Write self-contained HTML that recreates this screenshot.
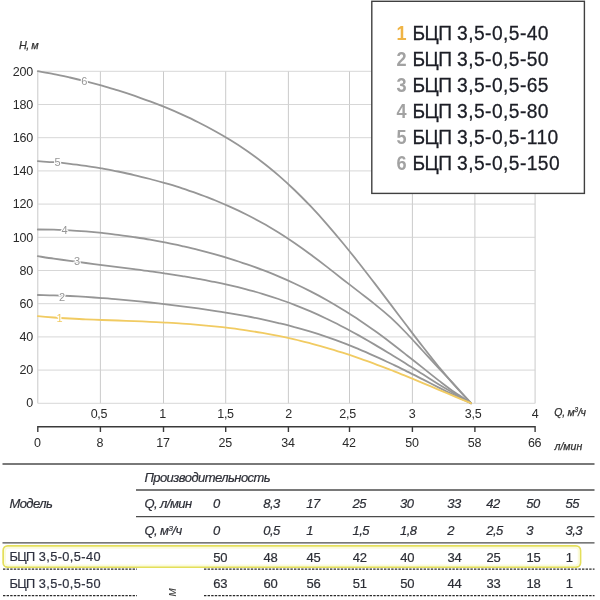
<!DOCTYPE html>
<html lang="ru"><head><meta charset="utf-8"><title>БЦП 3,5-0,5</title>
<style>
html,body{margin:0;padding:0;background:#fff;}
body{width:600px;height:600px;position:relative;overflow:hidden;font-family:"Liberation Sans",sans-serif;}
</style></head><body>
<svg width="600" height="600" viewBox="0 0 600 600" style="position:absolute;left:0;top:0">
<g stroke-width="0.9" fill="none">
<line stroke="#c4c4c4" x1="37.8" y1="71.3" x2="37.8" y2="403.3"/>
<line stroke="#c4c4c4" x1="100.4" y1="71.3" x2="100.4" y2="403.3"/>
<line stroke="#c4c4c4" x1="163.5" y1="71.3" x2="163.5" y2="403.3"/>
<line stroke="#c4c4c4" x1="225.7" y1="71.3" x2="225.7" y2="403.3"/>
<line stroke="#c4c4c4" x1="288.4" y1="71.3" x2="288.4" y2="403.3"/>
<line stroke="#c4c4c4" x1="349.5" y1="71.3" x2="349.5" y2="403.3"/>
<line stroke="#c4c4c4" x1="412.4" y1="71.3" x2="412.4" y2="403.3"/>
<line stroke="#c4c4c4" x1="474.9" y1="71.3" x2="474.9" y2="403.3"/>
<line stroke="#c4c4c4" x1="535.1" y1="71.3" x2="535.1" y2="403.3"/>
<line stroke="#d2d2d2" x1="37.8" y1="403.3" x2="535.1" y2="403.3"/>
<line stroke="#d2d2d2" x1="37.8" y1="370.1" x2="535.1" y2="370.1"/>
<line stroke="#d2d2d2" x1="37.8" y1="336.9" x2="535.1" y2="336.9"/>
<line stroke="#d2d2d2" x1="37.8" y1="303.7" x2="535.1" y2="303.7"/>
<line stroke="#d2d2d2" x1="37.8" y1="270.5" x2="535.1" y2="270.5"/>
<line stroke="#d2d2d2" x1="37.8" y1="237.3" x2="535.1" y2="237.3"/>
<line stroke="#d2d2d2" x1="37.8" y1="204.1" x2="535.1" y2="204.1"/>
<line stroke="#d2d2d2" x1="37.8" y1="170.9" x2="535.1" y2="170.9"/>
<line stroke="#d2d2d2" x1="37.8" y1="137.7" x2="535.1" y2="137.7"/>
<line stroke="#d2d2d2" x1="37.8" y1="104.5" x2="535.1" y2="104.5"/>
<line stroke="#d2d2d2" x1="37.8" y1="71.3" x2="535.1" y2="71.3"/>
</g>
<g fill="none" stroke-width="1.8" stroke-linecap="round">
<path stroke="#969696" d="M37.8 71.2 C40.5 71.7 48.5 73.0 53.8 74.1 C59.2 75.1 64.5 76.3 69.9 77.5 C75.2 78.7 80.6 80.0 85.9 81.3 C91.3 82.7 96.6 84.1 102.0 85.6 C107.3 87.2 112.7 88.7 118.0 90.4 C123.4 92.1 128.7 93.8 134.1 95.6 C139.4 97.5 144.8 99.4 150.1 101.4 C155.5 103.4 160.8 105.5 166.2 107.7 C171.5 109.9 176.9 112.2 182.2 114.6 C187.5 117.0 192.9 119.5 198.2 122.2 C203.6 124.9 208.9 127.7 214.3 130.7 C219.6 133.6 225.0 136.7 230.3 140.1 C235.7 143.4 241.0 146.8 246.4 150.5 C251.7 154.2 257.1 158.1 262.4 162.3 C267.8 166.4 273.1 170.8 278.5 175.4 C283.8 180.0 289.2 184.9 294.5 190.0 C299.9 195.2 305.2 200.6 310.6 206.2 C315.9 211.8 321.3 217.7 326.6 223.8 C331.9 229.9 337.3 236.3 342.6 242.7 C348.0 249.2 353.3 255.9 358.7 262.7 C364.0 269.5 369.4 276.4 374.7 283.4 C380.1 290.4 385.4 297.5 390.8 304.6 C396.1 311.6 401.5 318.8 406.8 325.8 C412.2 332.9 417.5 339.9 422.9 346.8 C428.2 353.6 433.6 360.5 438.9 367.0 C444.3 373.5 449.6 379.9 455.0 386.0 C460.3 392.0 468.3 400.3 471.0 403.2"/>
<path stroke="#969696" d="M37.8 161.2 C40.5 161.4 48.5 161.8 53.8 162.2 C59.2 162.6 64.5 163.1 69.9 163.8 C75.2 164.4 80.6 165.1 85.9 165.8 C91.3 166.6 96.6 167.5 102.0 168.4 C107.3 169.4 112.7 170.4 118.0 171.5 C123.4 172.6 128.7 173.7 134.1 175.0 C139.4 176.2 144.8 177.6 150.1 179.0 C155.5 180.4 160.8 181.9 166.2 183.4 C171.5 185.0 176.9 186.6 182.2 188.4 C187.5 190.1 192.9 192.0 198.2 193.9 C203.6 195.8 208.9 197.9 214.3 200.0 C219.6 202.2 225.0 204.5 230.3 206.9 C235.7 209.3 241.0 211.8 246.4 214.5 C251.7 217.2 257.1 220.0 262.4 223.0 C267.8 226.0 273.1 229.2 278.5 232.5 C283.8 235.8 289.2 239.4 294.5 243.0 C299.9 246.7 305.2 250.5 310.6 254.5 C315.9 258.4 321.3 262.5 326.6 266.6 C331.9 270.8 337.3 275.0 342.6 279.2 C348.0 283.3 353.3 287.5 358.7 291.6 C364.0 295.8 369.4 299.7 374.7 304.1 C380.1 308.4 385.4 312.8 390.8 317.7 C396.1 322.6 401.5 328.0 406.8 333.5 C412.2 339.1 417.5 345.2 422.9 351.0 C428.2 356.8 433.6 362.7 438.9 368.4 C444.3 374.1 449.6 379.6 455.0 385.4 C460.3 391.2 468.3 400.2 471.0 403.2"/>
<path stroke="#969696" d="M37.8 229.5 C40.5 229.5 48.5 229.5 53.8 229.7 C59.2 229.8 64.5 230.1 69.9 230.3 C75.2 230.6 80.6 231.0 85.9 231.4 C91.3 231.9 96.6 232.4 102.0 232.9 C107.3 233.5 112.7 234.1 118.0 234.8 C123.4 235.5 128.7 236.2 134.1 237.1 C139.4 237.9 144.8 238.7 150.1 239.7 C155.5 240.6 160.8 241.6 166.2 242.7 C171.5 243.7 176.9 244.9 182.2 246.1 C187.5 247.3 192.9 248.5 198.2 249.9 C203.6 251.2 208.9 252.6 214.3 254.1 C219.6 255.6 225.0 257.2 230.3 258.8 C235.7 260.5 241.0 262.2 246.4 264.1 C251.7 265.9 257.1 267.9 262.4 269.9 C267.8 271.9 273.1 274.1 278.5 276.4 C283.8 278.6 289.2 281.0 294.5 283.5 C299.9 286.0 305.2 288.6 310.6 291.4 C315.9 294.1 321.3 297.0 326.6 300.0 C331.9 303.0 337.3 306.2 342.6 309.5 C348.0 312.7 353.3 316.2 358.7 319.7 C364.0 323.3 369.4 327.0 374.7 330.8 C380.1 334.6 385.4 338.6 390.8 342.7 C396.1 346.7 401.5 351.0 406.8 355.2 C412.2 359.4 417.5 363.7 422.9 367.9 C428.2 372.2 433.6 376.5 438.9 380.6 C444.3 384.7 449.6 388.8 455.0 392.6 C460.3 396.3 468.3 401.4 471.0 403.2"/>
<path stroke="#969696" d="M37.8 256.2 C40.5 256.6 48.5 257.9 53.8 258.6 C59.2 259.4 64.5 260.1 69.9 260.9 C75.2 261.6 80.6 262.3 85.9 263.0 C91.3 263.7 96.6 264.4 102.0 265.1 C107.3 265.8 112.7 266.4 118.0 267.1 C123.4 267.8 128.7 268.5 134.1 269.2 C139.4 269.9 144.8 270.6 150.1 271.4 C155.5 272.1 160.8 272.9 166.2 273.7 C171.5 274.5 176.9 275.3 182.2 276.1 C187.5 277.0 192.9 277.9 198.2 278.9 C203.6 279.8 208.9 280.9 214.3 281.9 C219.6 283.0 225.0 284.2 230.3 285.4 C235.7 286.6 241.0 287.9 246.4 289.3 C251.7 290.8 257.1 292.2 262.4 293.8 C267.8 295.5 273.1 297.2 278.5 299.0 C283.8 300.8 289.2 302.8 294.5 304.8 C299.9 306.9 305.2 309.1 310.6 311.4 C315.9 313.7 321.3 316.2 326.6 318.7 C331.9 321.3 337.3 323.9 342.6 326.7 C348.0 329.5 353.3 332.4 358.7 335.4 C364.0 338.4 369.4 341.5 374.7 344.6 C380.1 347.7 385.4 351.0 390.8 354.3 C396.1 357.5 401.5 360.9 406.8 364.2 C412.2 367.6 417.5 371.0 422.9 374.3 C428.2 377.7 433.6 381.1 438.9 384.4 C444.3 387.6 449.6 390.9 455.0 394.1 C460.3 397.2 468.3 401.7 471.0 403.2"/>
<path stroke="#969696" d="M37.8 295.0 C40.5 295.1 48.5 295.2 53.8 295.4 C59.2 295.5 64.5 295.7 69.9 296.0 C75.2 296.3 80.6 296.6 85.9 296.9 C91.3 297.3 96.6 297.7 102.0 298.1 C107.3 298.5 112.7 298.9 118.0 299.4 C123.4 299.9 128.7 300.4 134.1 300.9 C139.4 301.4 144.8 302.0 150.1 302.5 C155.5 303.1 160.8 303.7 166.2 304.3 C171.5 305.0 176.9 305.6 182.2 306.3 C187.5 307.0 192.9 307.7 198.2 308.4 C203.6 309.2 208.9 310.0 214.3 310.8 C219.6 311.6 225.0 312.5 230.3 313.4 C235.7 314.3 241.0 315.2 246.4 316.2 C251.7 317.2 257.1 318.3 262.4 319.4 C267.8 320.5 273.1 321.7 278.5 323.0 C283.8 324.3 289.2 325.6 294.5 327.1 C299.9 328.5 305.2 330.0 310.6 331.7 C315.9 333.3 321.3 335.0 326.6 336.9 C331.9 338.7 337.3 340.6 342.6 342.7 C348.0 344.7 353.3 346.9 358.7 349.1 C364.0 351.3 369.4 353.7 374.7 356.1 C380.1 358.5 385.4 361.0 390.8 363.5 C396.1 366.1 401.5 368.7 406.8 371.4 C412.2 374.0 417.5 376.7 422.9 379.4 C428.2 382.1 433.6 384.9 438.9 387.6 C444.3 390.3 449.6 393.0 455.0 395.6 C460.3 398.2 468.3 401.9 471.0 403.2"/>
<path stroke="#f1cb62" d="M37.8 316.2 C40.5 316.5 48.5 317.2 53.8 317.5 C59.2 317.9 64.5 318.2 69.9 318.5 C75.2 318.8 80.6 319.1 85.9 319.3 C91.3 319.5 96.6 319.8 102.0 320.0 C107.3 320.2 112.7 320.3 118.0 320.5 C123.4 320.7 128.7 320.9 134.1 321.1 C139.4 321.3 144.8 321.6 150.1 321.8 C155.5 322.0 160.8 322.3 166.2 322.6 C171.5 322.9 176.9 323.2 182.2 323.6 C187.5 323.9 192.9 324.3 198.2 324.8 C203.6 325.2 208.9 325.7 214.3 326.3 C219.6 326.8 225.0 327.4 230.3 328.1 C235.7 328.8 241.0 329.5 246.4 330.3 C251.7 331.1 257.1 332.0 262.4 332.9 C267.8 333.8 273.1 334.8 278.5 335.9 C283.8 337.0 289.2 338.2 294.5 339.4 C299.9 340.6 305.2 342.0 310.6 343.4 C315.9 344.8 321.3 346.2 326.6 347.8 C331.9 349.3 337.3 351.0 342.6 352.7 C348.0 354.4 353.3 356.2 358.7 358.1 C364.0 359.9 369.4 361.9 374.7 363.8 C380.1 365.8 385.4 367.9 390.8 370.0 C396.1 372.1 401.5 374.2 406.8 376.4 C412.2 378.6 417.5 380.8 422.9 383.1 C428.2 385.3 433.6 387.6 438.9 389.8 C444.3 392.1 449.6 394.3 455.0 396.6 C460.3 398.8 468.3 402.1 471.0 403.2"/>
</g>
<g font-family="'Liberation Sans', sans-serif" font-size="11" text-anchor="middle" stroke="#fff" stroke-width="2.2" paint-order="stroke" stroke-linejoin="round">
<text x="84.2" y="85.0" fill="#969696">6</text>
<text x="57.5" y="165.8" fill="#969696">5</text>
<text x="64.5" y="233.8" fill="#969696">4</text>
<text x="77.0" y="265.1" fill="#969696">3</text>
<text x="62.0" y="301.3" fill="#969696">2</text>
<text x="59.5" y="322.1" fill="#f1cb62">1</text>
</g>
<g font-family="'Liberation Sans', sans-serif" font-size="12.5" letter-spacing="-0.3" fill="#2a2a2a" text-anchor="end">
<text x="32.8" y="407.0">0</text>
<text x="32.8" y="373.9">20</text>
<text x="32.8" y="340.8">40</text>
<text x="32.8" y="307.7">60</text>
<text x="32.8" y="274.6">80</text>
<text x="32.8" y="241.5">100</text>
<text x="32.8" y="208.4">120</text>
<text x="32.8" y="175.3">140</text>
<text x="32.8" y="142.2">160</text>
<text x="32.8" y="109.1">180</text>
<text x="32.8" y="76.0">200</text>
</g>
<g font-family="'Liberation Sans', sans-serif" font-size="12.5" letter-spacing="-0.3" fill="#2a2a2a" text-anchor="middle">
<text x="98.9" y="418.3">0,5</text>
<text x="162.7" y="418.3">1</text>
<text x="225.5" y="418.3">1,5</text>
<text x="288.6" y="418.3">2</text>
<text x="347.6" y="418.3">2,5</text>
<text x="412.2" y="418.3">3</text>
<text x="473.1" y="418.3">3,5</text>
<text x="535.0" y="418.3">4</text>
<text x="37.3" y="447">0</text>
<text x="99.9" y="447">8</text>
<text x="163.0" y="447">17</text>
<text x="225.2" y="447">25</text>
<text x="287.9" y="447">34</text>
<text x="349.0" y="447">42</text>
<text x="411.9" y="447">50</text>
<text x="474.4" y="447">58</text>
<text x="534.6" y="447">66</text>
</g>
<g stroke="#3a3a3a" stroke-width="1.4" fill="none">
<path d="M37.8 432 V426.7 H535.1 V432"/>
<line x1="100.4" y1="426.7" x2="100.4" y2="432"/>
<line x1="163.5" y1="426.7" x2="163.5" y2="432"/>
<line x1="225.7" y1="426.7" x2="225.7" y2="432"/>
<line x1="288.4" y1="426.7" x2="288.4" y2="432"/>
<line x1="349.5" y1="426.7" x2="349.5" y2="432"/>
<line x1="412.4" y1="426.7" x2="412.4" y2="432"/>
<line x1="474.9" y1="426.7" x2="474.9" y2="432"/>
</g>
<g font-family="'Liberation Sans', sans-serif" font-style="italic" font-size="11" fill="#303030" stroke="#303030" stroke-width="0.25">
<text x="19" y="48.6" font-size="10.8" letter-spacing="-0.55">H, м</text>
<text x="554.3" y="416.4" font-size="10.5" letter-spacing="-0.25">Q, м<tspan font-size="6.5" dy="-4">3</tspan><tspan dy="4">/ч</tspan></text>
<text x="554.5" y="449.5" font-size="10.5" letter-spacing="0">л/мин</text>
</g>
<rect x="371.8" y="1.3" width="212.6" height="192.1" fill="#fff" stroke="#404040" stroke-width="1.4"/>
<g font-family="'Liberation Sans', sans-serif" font-size="20.7">
<text transform="translate(396.6,40.4) scale(0.93,1)" font-weight="bold" font-size="19.5" fill="#efb445">1</text>
<text transform="translate(412.6,40.4) scale(0.93,1)" letter-spacing="0.45" fill="#1c1e26" stroke="#1c1e26" stroke-width="0.3"><tspan letter-spacing="-0.7">БЦП</tspan> 3,5-0,5-40</text>
<text transform="translate(396.6,66.3) scale(0.93,1)" font-weight="bold" font-size="19.5" fill="#a2a2a2">2</text>
<text transform="translate(412.6,66.3) scale(0.93,1)" letter-spacing="0.45" fill="#1c1e26" stroke="#1c1e26" stroke-width="0.3"><tspan letter-spacing="-0.7">БЦП</tspan> 3,5-0,5-50</text>
<text transform="translate(396.6,92.2) scale(0.93,1)" font-weight="bold" font-size="19.5" fill="#a2a2a2">3</text>
<text transform="translate(412.6,92.2) scale(0.93,1)" letter-spacing="0.45" fill="#1c1e26" stroke="#1c1e26" stroke-width="0.3"><tspan letter-spacing="-0.7">БЦП</tspan> 3,5-0,5-65</text>
<text transform="translate(396.6,118.1) scale(0.93,1)" font-weight="bold" font-size="19.5" fill="#a2a2a2">4</text>
<text transform="translate(412.6,118.1) scale(0.93,1)" letter-spacing="0.45" fill="#1c1e26" stroke="#1c1e26" stroke-width="0.3"><tspan letter-spacing="-0.7">БЦП</tspan> 3,5-0,5-80</text>
<text transform="translate(396.6,144.0) scale(0.93,1)" font-weight="bold" font-size="19.5" fill="#a2a2a2">5</text>
<text transform="translate(412.6,144.0) scale(0.93,1)" letter-spacing="0.45" fill="#1c1e26" stroke="#1c1e26" stroke-width="0.3"><tspan letter-spacing="-0.7">БЦП</tspan> 3,5-0,5-110</text>
<text transform="translate(396.6,169.9) scale(0.93,1)" font-weight="bold" font-size="19.5" fill="#a2a2a2">6</text>
<text transform="translate(412.6,169.9) scale(0.93,1)" letter-spacing="0.45" fill="#1c1e26" stroke="#1c1e26" stroke-width="0.3"><tspan letter-spacing="-0.7">БЦП</tspan> 3,5-0,5-150</text>
</g>
<g stroke="#4c4c4c" stroke-width="1.3" fill="none">
<line x1="2.5" y1="464" x2="594.5" y2="464"/>
<line x1="136" y1="490" x2="594.5" y2="490"/>
<line x1="136" y1="516.6" x2="594.5" y2="516.6"/>
<line x1="2.5" y1="542.8" x2="594.5" y2="542.8"/>
</g>
<rect x="3.2" y="545.9" width="577.3" height="21.3" rx="4.5" ry="4.5" fill="#fff" stroke="#e4df5a" stroke-width="1.8"/><rect x="5.1" y="547.8" width="573.5" height="17.5" rx="3" ry="3" fill="none" stroke="#fbfbdc" stroke-width="1.8"/>
<g stroke="#2a2a2a" stroke-width="1.2" stroke-dasharray="2.4 1.2" fill="none">
<line x1="3" y1="569.1" x2="137" y2="569.1"/>
<line x1="204" y1="569.1" x2="594.5" y2="569.1"/>
<line x1="3" y1="595.6" x2="137" y2="595.6"/>
<line x1="204" y1="595.6" x2="594.5" y2="595.6"/>
</g>
<g font-family="'Liberation Sans', sans-serif" font-size="12.5" fill="#2c2e36" stroke="#2c2e36" stroke-width="0.2">
<g font-style="italic" font-size="13" letter-spacing="-0.55">
<text x="9.4" y="508.4">Модель</text>
<text x="144.4" y="482.1">Производительность</text>
<text x="144.4" y="508.4">Q, л/мин</text>
<text x="144.4" y="534.9">Q, м<tspan font-size="8" dy="-4">3</tspan><tspan dy="4">/ч</tspan></text>
<text x="213.0" y="508.4">0</text>
<text x="263.3" y="508.4">8,3</text>
<text x="306.3" y="508.4">17</text>
<text x="352.5" y="508.4">25</text>
<text x="400.0" y="508.4">30</text>
<text x="447.3" y="508.4">33</text>
<text x="486.3" y="508.4">42</text>
<text x="526.3" y="508.4">50</text>
<text x="565.5" y="508.4">55</text>
<text x="213.0" y="534.9">0</text>
<text x="263.3" y="534.9">0,5</text>
<text x="306.3" y="534.9">1</text>
<text x="352.5" y="534.9">1,5</text>
<text x="400.0" y="534.9">1,8</text>
<text x="447.3" y="534.9">2</text>
<text x="486.3" y="534.9">2,5</text>
<text x="526.3" y="534.9">3</text>
<text x="565.5" y="534.9">3,3</text>
</g>
<text transform="translate(9.4,561.3) scale(0.955,1)" font-size="13.4" letter-spacing="0.42" fill="#2f3242"><tspan letter-spacing="-0.6">БЦП</tspan> 3,5-0,5-40</text>
<text transform="translate(9.4,587.5) scale(0.955,1)" font-size="13.4" letter-spacing="0.42" fill="#2f3242"><tspan letter-spacing="-0.6">БЦП</tspan> 3,5-0,5-50</text>
<text x="213.3" y="561.6" font-size="13" letter-spacing="-0.2">50</text>
<text x="263.6" y="561.6" font-size="13" letter-spacing="-0.2">48</text>
<text x="306.6" y="561.6" font-size="13" letter-spacing="-0.2">45</text>
<text x="352.8" y="561.6" font-size="13" letter-spacing="-0.2">42</text>
<text x="400.3" y="561.6" font-size="13" letter-spacing="-0.2">40</text>
<text x="447.6" y="561.6" font-size="13" letter-spacing="-0.2">34</text>
<text x="486.6" y="561.6" font-size="13" letter-spacing="-0.2">25</text>
<text x="526.6" y="561.6" font-size="13" letter-spacing="-0.2">15</text>
<text x="565.8" y="561.6" font-size="13" letter-spacing="-0.2">1</text>
<text x="213.3" y="587.9" font-size="13" letter-spacing="-0.2">63</text>
<text x="263.6" y="587.9" font-size="13" letter-spacing="-0.2">60</text>
<text x="306.6" y="587.9" font-size="13" letter-spacing="-0.2">56</text>
<text x="352.8" y="587.9" font-size="13" letter-spacing="-0.2">51</text>
<text x="400.3" y="587.9" font-size="13" letter-spacing="-0.2">50</text>
<text x="447.6" y="587.9" font-size="13" letter-spacing="-0.2">44</text>
<text x="486.6" y="587.9" font-size="13" letter-spacing="-0.2">33</text>
<text x="526.6" y="587.9" font-size="13" letter-spacing="-0.2">18</text>
<text x="565.8" y="587.9" font-size="13" letter-spacing="-0.2">1</text>
<text transform="translate(176,640) rotate(-90)" font-style="italic" stroke="none" fill="#444">Напор, м</text>
</g>
</svg>
</body></html>
